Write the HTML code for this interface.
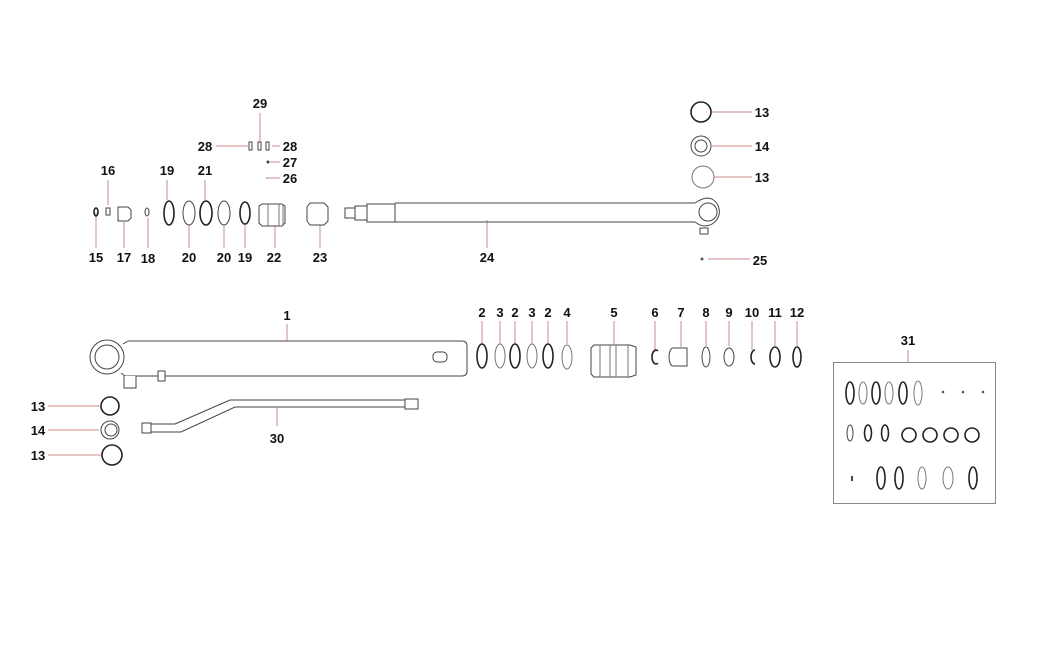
<!DOCTYPE html>
<html><head><meta charset="utf-8"><style>
html,body{margin:0;padding:0;background:#fff;}
svg{display:block;}
text{font-family:"Liberation Sans",sans-serif;font-weight:bold;font-size:13px;fill:#111;}
.l{stroke:#c98a8a;stroke-width:1;fill:none;}
.p{stroke:#444;stroke-width:1;fill:#fff;}
.d{stroke:#222;stroke-width:1.6;fill:none;}
.t{stroke:#777;stroke-width:1;fill:none;}
</style></head><body>
<svg width="1044" height="655" viewBox="0 0 1044 655">
<!-- top-left labels -->
<text x="96" y="262" text-anchor="middle">15</text>
<text x="124" y="262" text-anchor="middle">17</text>
<text x="148" y="263" text-anchor="middle">18</text>
<text x="189" y="262" text-anchor="middle">20</text>
<text x="224" y="262" text-anchor="middle">20</text>
<text x="245" y="262" text-anchor="middle">19</text>
<text x="274" y="262" text-anchor="middle">22</text>
<text x="320" y="262" text-anchor="middle">23</text>
<text x="487" y="262" text-anchor="middle">24</text>
<text x="760" y="265" text-anchor="middle">25</text>
<text x="108" y="175" text-anchor="middle">16</text>
<text x="167" y="175" text-anchor="middle">19</text>
<text x="205" y="175" text-anchor="middle">21</text>
<text x="260" y="108" text-anchor="middle">29</text>
<text x="205" y="151" text-anchor="middle">28</text>
<text x="290" y="151" text-anchor="middle">28</text>
<text x="290" y="167" text-anchor="middle">27</text>
<text x="290" y="183" text-anchor="middle">26</text>
<text x="762" y="117" text-anchor="middle">13</text>
<text x="762" y="151" text-anchor="middle">14</text>
<text x="762" y="182" text-anchor="middle">13</text>
<!-- top leaders -->
<path class="l" d="M96 213V248 M108 180V205 M124 222V248 M148 218V248 M167 180V200 M205 180V200 M189 225V248 M224 225V248 M245 225V248 M275 225V248 M320 222V248 M487 220V248 M260 113V146 M216 146H248 M272 146H280 M270 162H280 M268 178H280 M708 259H750 M712 112H752 M712 146H752 M714 177H752"/>
<!-- small parts 28/29/27/26 -->
<rect x="249" y="142" width="3" height="8" class="p"/><rect x="258" y="142" width="3" height="8" class="p"/><rect x="266" y="142" width="3" height="8" class="p"/>
<circle cx="268" cy="162" r="1.5" fill="#444"/><circle cx="267" cy="178" r="0.8" fill="#777"/>
<!-- 15,16,17,18 -->
<ellipse cx="96" cy="212" rx="2" ry="4" class="d"/>
<rect x="106" y="208" width="4" height="7" class="p"/>
<path class="p" d="M118 207h10l3 3v8l-3 3h-10z"/>
<ellipse cx="147" cy="212" rx="2" ry="4" class="p"/>
<!-- rings 19,20,21,20,19 -->
<ellipse cx="169" cy="213" rx="5" ry="12" class="d"/>
<ellipse cx="189" cy="213" rx="6" ry="12" class="p"/>
<ellipse cx="206" cy="213" rx="6" ry="12" class="d"/>
<ellipse cx="224" cy="213" rx="6" ry="12" class="p"/>
<ellipse cx="245" cy="213" rx="5" ry="11" class="d"/>
<!-- 22 piston -->
<path class="p" d="M262 204h20l3 2v17l-3 3h-20l-3-3v-17z"/>
<path class="t" d="M268 204v22 M279 204v22 M283 204v22"/>
<!-- 23 -->
<path class="p" d="M310 203h14l4 4v14l-4 4h-14l-3-4v-14z"/>
<!-- rod 24 -->
<path class="p" d="M345 208h10v10h-10z M355 206h12v14h-12z M367 204h28v18h-28z"/>
<path class="p" d="M395 203H695 M395 222H695"/>
<path class="p" d="M695 203 Q705 196 712 199 A14 14 0 1 1 698 224 L695 222"/>
<circle cx="708" cy="212" r="9" class="p"/>
<rect x="700" y="228" width="8" height="6" class="p"/>
<circle cx="702" cy="259" r="1.5" fill="#555"/>
<!-- 13/14/13 top right -->
<circle cx="701" cy="112" r="10" class="d"/>
<circle cx="701" cy="146" r="10" class="p" stroke-width="1.6"/><circle cx="701" cy="146" r="6" class="p"/>
<circle cx="703" cy="177" r="11" class="t"/>
<!-- barrel 1 -->
<text x="287" y="320" text-anchor="middle">1</text>
<path class="l" d="M287 324V341"/>
<path class="p" d="M128 341H462 Q467 341 467 346V371 Q467 376 462 376H125"/>
<path class="p" d="M128 341l-5 3 M125 376l-4-3"/>
<circle cx="107" cy="357" r="17" class="p"/><circle cx="107" cy="357" r="12" class="p"/>
<path class="p" d="M124 376v12h12v-12"/>
<rect x="158" y="371" width="7" height="10" class="p"/>
<rect x="433" y="352" width="14" height="10" rx="4" class="p"/>
<!-- 13/14/13 left -->
<text x="38" y="411" text-anchor="middle">13</text>
<text x="38" y="435" text-anchor="middle">14</text>
<text x="38" y="460" text-anchor="middle">13</text>
<path class="l" d="M48 406H100 M48 430H99 M48 455H101"/>
<circle cx="110" cy="406" r="9" class="d"/>
<circle cx="110" cy="430" r="9" class="p" stroke-width="1.6"/><circle cx="111" cy="430" r="6" class="p"/>
<circle cx="112" cy="455" r="10" class="d"/>
<!-- pipe 30 -->
<path class="p" d="M150 424H175L230 400H405 M150 432H181L235 407H405" fill="none"/>
<rect x="142" y="423" width="9" height="10" class="p"/>
<rect x="405" y="399" width="13" height="10" class="p"/>
<path class="l" d="M277 408V426"/>
<text x="277" y="443" text-anchor="middle">30</text>
<!-- row 2 labels -->
<g text-anchor="middle">
<text x="482" y="317">2</text><text x="500" y="317">3</text><text x="515" y="317">2</text><text x="532" y="317">3</text><text x="548" y="317">2</text><text x="567" y="317">4</text><text x="614" y="317">5</text><text x="655" y="317">6</text><text x="681" y="317">7</text><text x="706" y="317">8</text><text x="729" y="317">9</text><text x="752" y="317">10</text><text x="775" y="317">11</text><text x="797" y="317">12</text>
</g>
<path class="l" d="M482 321V344 M500 321V344 M515 321V344 M532 321V344 M548 321V344 M567 321V344 M614 321V344 M655 321V352 M681 321V347 M706 321V346 M729 321V346 M752 321V350 M775 321V346 M797 321V346"/>
<ellipse cx="482" cy="356" rx="5" ry="12" class="d"/>
<ellipse cx="500" cy="356" rx="5" ry="12" class="t"/>
<ellipse cx="515" cy="356" rx="5" ry="12" class="d"/>
<ellipse cx="532" cy="356" rx="5" ry="12" class="t"/>
<ellipse cx="548" cy="356" rx="5" ry="12" class="d"/>
<ellipse cx="567" cy="357" rx="5" ry="12" class="t"/>
<path class="p" d="M594 345h36l6 2v28l-6 2h-36l-3-3v-26z"/>
<path class="t" d="M600 345v32 M610 345v32 M616 345v32 M628 345v32"/>
<path class="d" d="M658 351a4 7 0 1 0 0 12"/>
<path class="p" d="M673 348h14v18h-14a4 9 0 0 1 0-18z"/>
<ellipse cx="706" cy="357" rx="4" ry="10" class="p"/>
<ellipse cx="729" cy="357" rx="5" ry="9" class="p" stroke-width="1.5"/>
<path class="d" d="M755 350a4 7 0 1 0 0 14"/>
<ellipse cx="775" cy="357" rx="5" ry="10" class="d"/>
<ellipse cx="797" cy="357" rx="4" ry="10" class="d"/>
<!-- kit 31 -->
<text x="908" y="345" text-anchor="middle">31</text>
<path class="l" d="M908 350V362"/>
<rect x="833.5" y="362.5" width="162" height="141" fill="none" stroke="#888"/>
<ellipse cx="850" cy="393" rx="4" ry="11" class="d"/>
<ellipse cx="863" cy="393" rx="4" ry="11" class="t"/>
<ellipse cx="876" cy="393" rx="4" ry="11" class="d"/>
<ellipse cx="889" cy="393" rx="4" ry="11" class="t"/>
<ellipse cx="903" cy="393" rx="4" ry="11" class="d"/>
<ellipse cx="918" cy="393" rx="4" ry="12" class="t"/>
<circle cx="943" cy="392" r="1.3" fill="#555"/><circle cx="963" cy="392" r="1.3" fill="#555"/><circle cx="983" cy="392" r="1.3" fill="#555"/>
<ellipse cx="850" cy="433" rx="3" ry="8" class="p"/>
<ellipse cx="868" cy="433" rx="3.5" ry="8" class="d"/>
<ellipse cx="885" cy="433" rx="3.5" ry="8" class="d"/>
<circle cx="909" cy="435" r="7" class="d"/><circle cx="930" cy="435" r="7" class="d"/><circle cx="951" cy="435" r="7" class="d"/><circle cx="972" cy="435" r="7" class="d"/>
<rect x="851" y="476" width="2" height="5" fill="#444"/>
<ellipse cx="881" cy="478" rx="4" ry="11" class="d"/>
<ellipse cx="899" cy="478" rx="4" ry="11" class="d"/>
<ellipse cx="922" cy="478" rx="4" ry="11" class="t"/>
<ellipse cx="948" cy="478" rx="5" ry="11" class="t"/>
<ellipse cx="973" cy="478" rx="4" ry="11" class="d"/>
</svg>
</body></html>
